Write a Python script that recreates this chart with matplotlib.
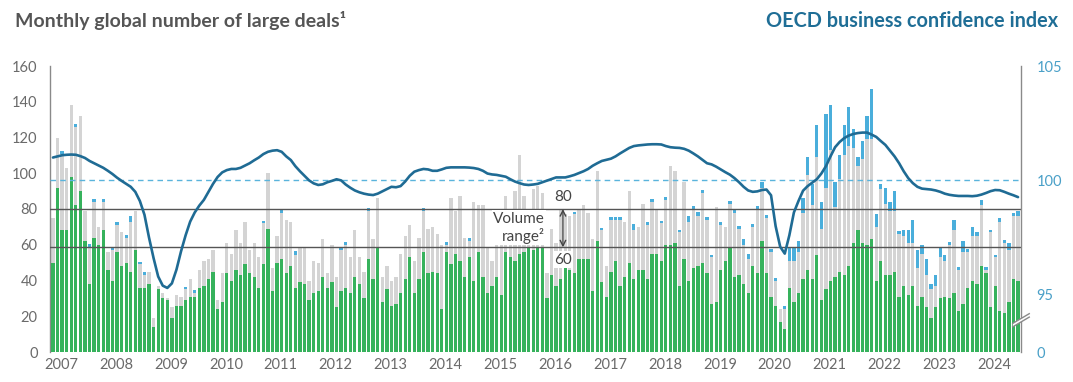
import numpy as np
import matplotlib
matplotlib.use("Agg")
import matplotlib.pyplot as plt
from matplotlib.patches import Polygon

plt.rcParams['font.family'] = ['Lato', 'DejaVu Sans']

years = list(range(2007, 2025))

# monthly number of large deals, Jan 2007 - Aug 2024
green = [50, 92, 68, 68, 98, 82, 90, 62, 38, 64, 60, 68,
         46, 40, 56, 48, 50, 45, 57, 36, 36, 38, 14, 35,
         30, 29, 19, 26, 26, 29, 31, 31, 36, 37, 41, 45,
         24, 28, 44, 40, 46, 43, 49, 44, 42, 36, 49, 69,
         34, 50, 52, 44, 48, 36, 39, 38, 29, 33, 34, 42,
         36, 39, 25, 34, 36, 33, 42, 38, 30, 52, 41, 59,
         28, 35, 26, 27, 33, 41, 53, 33, 41, 56, 44, 45,
         44, 24, 56, 49, 55, 51, 42, 53, 40, 56, 42, 33,
         37, 42, 32, 56, 53, 51, 55, 56, 58, 57, 59, 59,
         30, 43, 37, 41, 48, 46, 44, 52, 52, 52, 34, 62,
         39, 31, 45, 51, 37, 42, 50, 41, 46, 46, 41, 55,
         55, 51, 60, 60, 61, 37, 52, 40, 47, 48, 50, 44,
         27, 28, 46, 51, 58, 42, 43, 38, 33, 48, 44, 62,
         44, 31, 26, 17, 13, 36, 28, 33, 41, 46, 41, 54,
         29, 35, 40, 42, 45, 43, 48, 61, 68, 61, 60, 63,
         40, 51, 43, 43, 45, 31, 37, 32, 37, 26, 31, 25,
         19, 25, 30, 31, 30, 33, 23, 27, 36, 40, 38, 48,
         44, 25, 37, 23, 22, 28, 41, 40]

gray = [75, 120, 111, 103, 138, 126, 132, 79, 59, 84, 70, 84,
        56, 57, 71, 67, 64, 73, 79, 49, 43, 45, 19, 37,
        33, 30, 25, 32, 31, 35, 41, 33, 46, 51, 52, 57,
        29, 44, 61, 55, 68, 61, 73, 57, 61, 53, 72, 100,
        47, 65, 78, 74, 73, 54, 58, 58, 40, 51, 50, 63,
        44, 60, 42, 57, 60, 53, 68, 53, 45, 79, 63, 86,
        42, 48, 40, 42, 55, 65, 71, 51, 64, 79, 69, 70,
        66, 60, 60, 86, 79, 87, 64, 62, 84, 82, 82, 59,
        51, 60, 64, 87, 68, 90, 110, 87, 76, 91, 93, 89,
        44, 69, 61, 80, 77, 76, 77, 80, 82, 78, 63, 101,
        68, 48, 74, 74, 74, 73, 90, 68, 70, 83, 71, 84,
        80, 72, 85, 104, 101, 67, 95, 73, 80, 76, 89, 74,
        53, 81, 71, 70, 83, 78, 69, 60, 52, 70, 80, 92,
        75, 56, 40, 24, 24, 51, 51, 56, 78, 99, 82, 109,
        69, 92, 113, 81, 97, 110, 115, 114, 104, 108, 119, 119,
        70, 91, 83, 79, 79, 66, 65, 61, 61, 47, 55, 43,
        35, 37, 53, 51, 60, 68, 46, 56, 56, 65, 65, 82,
        46, 67, 53, 73, 61, 57, 76, 76]

# blue segment sitting on top of the gray bar
blue = [0, 0, 1.5, 0, 0, 1.5, 0, 0, 1.5, 1.5, 0, 1.5,
        0, 1.5, 1.5, 0, 1.5, 3, 0, 1.5, 1.5, 0, 0, 0,
        0, 0, 0, 0, 0, 1.5, 0, 1.5, 0, 0, 0, 0,
        0, 0, 0, 0, 0, 0, 0, 0, 0, 0, 1.5, 0,
        0, 0, 1.5, 0, 0, 2.5, 0, 0, 0, 0, 0, 0,
        0, 0, 0, 1.5, 1.5, 0, 0, 0, 0, 1.5, 0, 0,
        0, 0, 0, 0, 0, 0, 0, 0, 0, 1.5, 0, 0,
        0, 0, 1.5, 0, 0, 0, 0, 1.5, 0, 0, 0, 0,
        0, 0, 0, 0, 0, 0, 0, 0, 0, 0, 0, 0,
        0, 0, 0, 0, 0, 0, 1.5, 0, 0, 0, 0, 0,
        1.5, 0, 1.5, 1.5, 1.5, 0, 0, 3.5, 0, 0, 1.5, 1.5,
        0, 1.5, 1.5, 0, 0, 1.5, 0, 3, 1.5, 2.5, 1.5, 1.5,
        1.5, 0, 1.5, 0, 1.5, 1.5, 1.5, 3, 3, 1.5, 1.5, 3,
        1.5, 1.5, 1.5, 0, 1.5, 7, 7, 6, 8, 10, 12, 18,
        15, 41, 25, 14, 13, 17, 22, 11, 5, 10, 13, 28,
        7, 3, 9, 5, 11, 1.5, 3, 7, 13, 10, 5, 9,
        3, 6, 6, 3, 1.5, 6, 1.5, 6, 1.5, 5, 2, 3,
        1.5, 1.5, 1.5, 2, 1.5, 4, 1.5, 3]

# OECD business confidence index
bci = [101.0, 101.05, 101.1, 101.12, 101.13, 101.12, 101.06, 100.98, 100.85, 100.75, 100.65, 100.55,
       100.42, 100.28, 100.12, 99.98, 99.85, 99.72, 99.5, 99.1, 98.5, 97.5, 96.6, 95.8,
       95.4, 95.3, 95.5, 96.1, 96.9, 97.6, 98.2, 98.6, 98.9, 99.15, 99.5, 99.85,
       100.15, 100.35, 100.45, 100.5, 100.5, 100.55, 100.65, 100.75, 100.88, 101.0, 101.15, 101.25,
       101.3, 101.32, 101.25, 101.05, 100.89, 100.62, 100.4, 100.2, 100.0, 99.87, 99.8, 99.83,
       99.92, 99.98, 100.05, 100.0, 99.82, 99.68, 99.56, 99.48, 99.42, 99.38, 99.36, 99.42,
       99.52, 99.62, 99.72, 99.7, 99.75, 99.95, 100.2, 100.38, 100.45, 100.5, 100.48, 100.42,
       100.42, 100.48, 100.55, 100.57, 100.57, 100.57, 100.57, 100.56, 100.54, 100.5, 100.42, 100.3,
       100.26, 100.24, 100.2, 100.16, 100.05, 99.95, 99.88, 99.82, 99.8, 99.82, 99.85, 99.92,
       99.99, 100.06, 100.13, 100.13, 100.13, 100.18, 100.24, 100.32, 100.4, 100.5, 100.64, 100.75,
       100.85, 100.9, 100.95, 101.05, 101.18, 101.3, 101.42, 101.5, 101.53, 101.55, 101.57, 101.58,
       101.58, 101.57, 101.5, 101.45, 101.43, 101.42, 101.38, 101.3, 101.18, 101.05, 100.9, 100.75,
       100.7, 100.6, 100.48, 100.36, 100.25, 100.1, 99.92, 99.72, 99.56, 99.5, 99.52, 99.58,
       99.6, 99.35, 98.0, 97.1, 96.8, 97.6, 98.6, 99.1, 99.55, 99.75, 99.9, 100.05,
       100.3, 100.62, 101.05, 101.45, 101.68, 101.85, 101.96, 102.03, 102.07, 102.09, 102.09, 102.0,
       101.9, 101.72, 101.55, 101.3, 101.05, 100.75, 100.4, 100.1, 99.88, 99.72, 99.64, 99.62,
       99.6, 99.56, 99.5, 99.42, 99.37, 99.34, 99.32, 99.32, 99.32, 99.31, 99.33, 99.38,
       99.45, 99.53, 99.58, 99.57, 99.5, 99.42, 99.35, 99.27]

range_hi, range_lo = 80, 58.5

GREEN = "#36b25c"
GRAY = "#d4d4d4"
BLUE = "#4aaedb"
LINE = "#1f6b94"
TXT = "#6a6a6a"

x = np.arange(len(green))

fig = plt.figure(figsize=(10.73, 3.82), dpi=100)
ax = fig.add_axes([50 / 1073, 1 - 352 / 382, 971 / 1073, 286 / 382])

ax.bar(x, gray, width=0.72, color=GRAY, linewidth=0, zorder=2)
ax.bar(x, green, width=0.72, color=GREEN, linewidth=0, zorder=3)
ax.bar(x, blue, bottom=gray, width=0.72, color=BLUE, linewidth=0, zorder=4)

for v in (range_hi, range_lo):
    ax.axhline(v, color="#555555", lw=1.0, zorder=5)

ax.set_xlim(-0.65, len(green) - 0.35)
ax.set_ylim(0, 160)
ax.set_yticks(range(0, 161, 20))
ax.set_xticks([12 * k + 1.8 for k in range(len(years))])
ax.set_xticklabels([str(y) for y in years])
ax.tick_params(axis="both", length=0, labelsize=10.5, labelcolor=TXT)
ax.tick_params(axis="x", pad=4)
ax.tick_params(axis="y", pad=9)
for s in ("top", "bottom", "right"):
    ax.spines[s].set_visible(False)
ax.spines["left"].set_color("#8a8a8a")
ax.spines["left"].set_linewidth(1.0)

# volume range annotation
ax.annotate("", xy=(111.5, range_hi), xytext=(111.5, range_lo),
            arrowprops=dict(arrowstyle="<->", color="#444444", lw=1.0,
                            shrinkA=0, shrinkB=0), zorder=7)
box = dict(facecolor="white", edgecolor="none", pad=1.0)
ax.text(111.5, range_hi + 3, "80", ha="center", va="bottom", fontsize=11,
        color="#444444", bbox=box, zorder=6)
ax.text(111.5, range_lo - 3, "60", ha="center", va="top", fontsize=11,
        color="#444444", bbox=box, zorder=6)
ax.text(107.5, range_lo + 11, "Volume\nrange²", ha="right", va="center",
        fontsize=11, color="#444444", linespacing=1.15, bbox=box, zorder=6)

ax2 = ax.twinx()
ax2.set_ylim(92.5, 105)
ax2.axhline(100, color="#5ab4dc", lw=1.0, ls=(0, (4, 3)), zorder=2)
ax2.plot(x, bci, color=LINE, lw=1.9, zorder=3, solid_capstyle="round")
ax2.set_yticks([92.5, 95, 100, 105])
ax2.set_yticklabels(["0", "95", "100", "105"])
ax2.tick_params(axis="y", length=0, labelsize=10.5, labelcolor="#4aa0c8", pad=11)
for s in ("top", "bottom", "left"):
    ax2.spines[s].set_visible(False)
ax2.spines["right"].set_color("#8a8a8a")
ax2.spines["right"].set_linewidth(1.0)

# axis break on the right scale
yb, dx, dy, gap = 0.105, 0.0085, 0.017, 0.012
ax2.add_patch(Polygon([(1 - dx, yb - dy), (1 + dx, yb + dy), (1 + dx, yb + dy + gap),
                       (1 - dx, yb - dy + gap)], closed=True, transform=ax2.transAxes,
                      facecolor="white", edgecolor="none", clip_on=False, zorder=10))
for off in (0, gap):
    ax2.plot([1 - dx, 1 + dx], [yb - dy + off, yb + dy + off], transform=ax2.transAxes,
             color="#8a8a8a", lw=1.0, clip_on=False, zorder=11)

fig.text(15 / 1073, 1 - 21 / 382, "Monthly global number of large deals¹", ha="left",
         va="center", fontsize=14, fontweight="bold", color="#555555")
fig.text(1058 / 1073, 1 - 21 / 382, "OECD business confidence index", ha="right",
         va="center", fontsize=14.3, fontweight="bold", color="#1f6e96")

fig.savefig("out.png", dpi=100)
